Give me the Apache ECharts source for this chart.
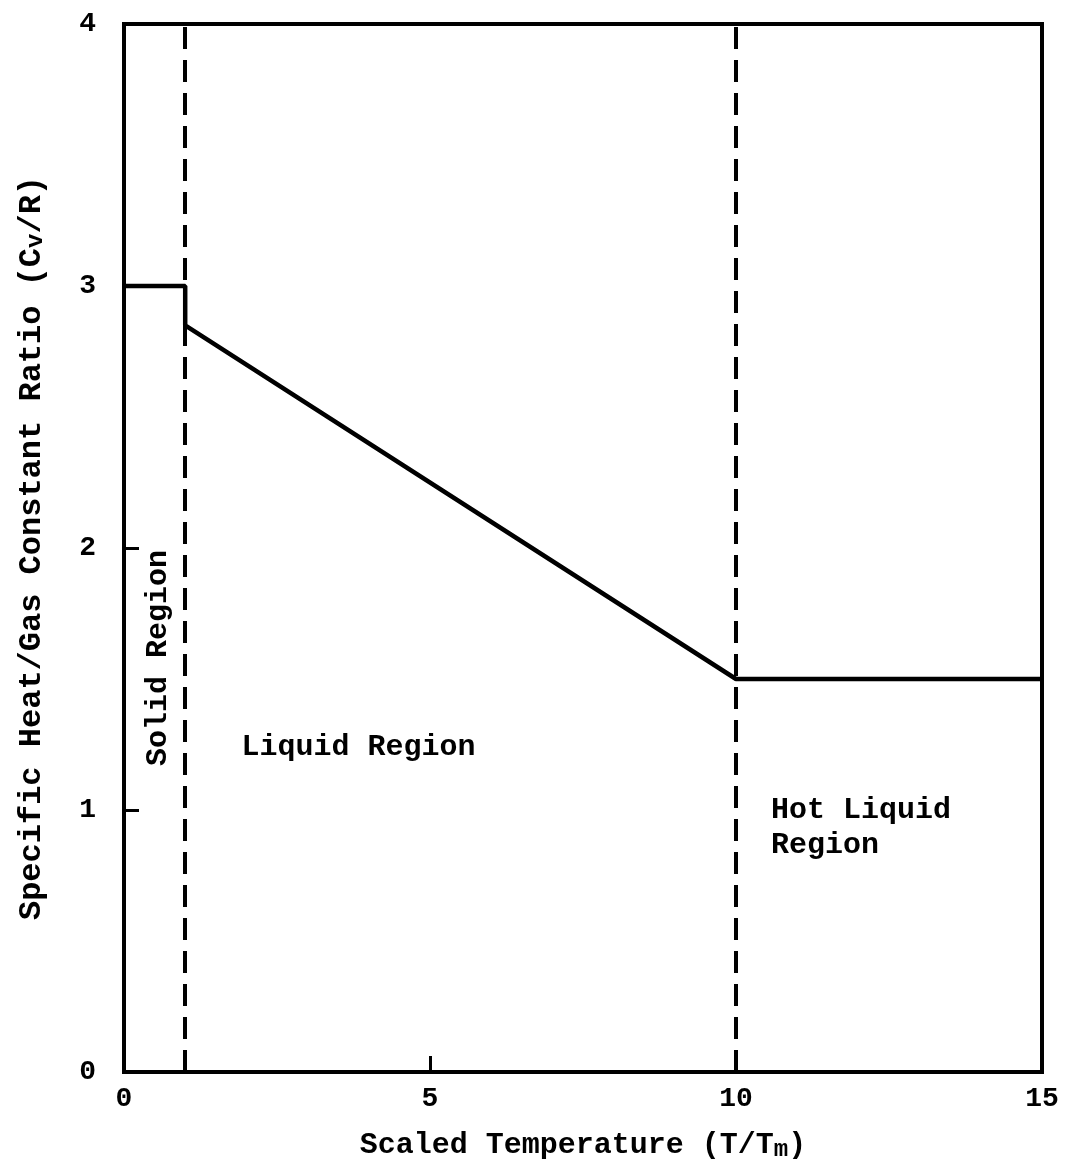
<!DOCTYPE html>
<html>
<head>
<meta charset="utf-8">
<script src="https://cdn.jsdelivr.net/npm/echarts@6/dist/echarts.min.js"></script>
<style>html,body{margin:0;padding:0;background:#fff;}#c{width:1071px;height:1175px;}</style>
</head>
<body>
<div id="c"></div>
<script>
const xValues = [0, 1, 1, 10, 15];
const cvValues = [3, 3, 2.85, 1.5, 1.5];
const regionBoundaries = [1, 10];
const annotationX = [0.57, 1.92, 10.57];
const annotationY = [1.58, 1.24, 0.93];
const annotationText = ['Solid Region', 'Liquid Region', 'Hot Liquid\nRegion'];
const annotationRotate = [90, 0, 0];
const xTickLabels = ['0', '5', '10', '15'];
const yTickLabels = ['0', '1', '2', '3', '4'];

const FONT = '"Liberation Mono", "DejaVu Sans Mono", monospace';
const chart = echarts.init(document.getElementById('c'), null, {renderer: 'canvas'});

const lineData = xValues.map((x, i) => [x, cvValues[i]]);
const annData = annotationX.map((x, i) => ({
  value: [x, annotationY[i]],
  name: annotationText[i],
  label: annotationRotate[i] ? {rotate: annotationRotate[i], align: 'center'} : {}
}));

chart.setOption({
  animation: false,
  backgroundColor: '#fff',
  grid: {left: 121, right: 29, top: 24, bottom: 103, show: true, borderColor: '#000', borderWidth: 4, backgroundColor: 'transparent'},
  xAxis: {
    type: 'value', min: 0, max: 15, interval: 5,
    axisLine: {show: true, lineStyle: {color: '#000', width: 4}},
    axisTick: {show: true, inside: true, length: 16, lineStyle: {color: '#000', width: 3}},
    splitLine: {show: false},
    axisLabel: {margin: 13, color: '#000', fontFamily: FONT, fontWeight: 'bold', fontSize: 28,
      formatter: v => xTickLabels[xTickLabels.indexOf(String(v))] },
    name: '{a|Scaled Temperature (T/T}{s|m}{a|)}',
    nameLocation: 'middle', nameGap: 58,
    nameTextStyle: {rich: {
      a: {fontFamily: FONT, fontWeight: 'bold', fontSize: 30, color: '#000', verticalAlign: 'top', lineHeight: 32},
      s: {fontFamily: FONT, fontWeight: 'bold', fontSize: 24, color: '#000', verticalAlign: 'bottom', lineHeight: 24, padding: [18, 0, 0, 0]}
    }}
  },
  yAxis: {
    type: 'value', min: 0, max: 4, interval: 1,
    axisLine: {show: true, lineStyle: {color: '#000', width: 4}},
    axisTick: {show: true, inside: true, length: 15, lineStyle: {color: '#000', width: 3}},
    splitLine: {show: false},
    axisLabel: {margin: 28, color: '#000', fontFamily: FONT, fontWeight: 'bold', fontSize: 28,
      formatter: v => yTickLabels[yTickLabels.indexOf(String(v))] },
    name: '{a|Specific Heat/Gas Constant Ratio (C}{s|v}{a|/R)}',
    nameLocation: 'middle', nameGap: 76, nameRotate: 90,
    nameTextStyle: {rich: {
      a: {fontFamily: FONT, fontWeight: 'bold', fontSize: 32, color: '#000', verticalAlign: 'top', lineHeight: 32},
      s: {fontFamily: FONT, fontWeight: 'bold', fontSize: 24, color: '#000', verticalAlign: 'bottom', lineHeight: 24, padding: [16, 0, 0, 0]}
    }}
  },
  series: [
    {
      type: 'line', data: lineData, symbol: 'none',
      lineStyle: {color: '#000', width: 4.5}, z: 5,
      markLine: {
        silent: true, symbol: ['none', 'none'], label: {show: false},
        lineStyle: {color: '#000', width: 4, type: [22, 11]},
        data: regionBoundaries.map(x => ({xAxis: x}))
      }
    },
    {
      type: 'scatter', data: annData, symbolSize: 1, silent: true,
      itemStyle: {color: '#fff', opacity: 0},
      label: {
        show: true, position: 'inside', color: '#000', fontFamily: FONT, fontWeight: 'bold', fontSize: 30, lineHeight: 35,
        align: 'left', verticalAlign: 'middle', textBorderWidth: 0, textBorderColor: 'transparent', opacity: 1,
        formatter: p => p.name
      }
    }
  ]
});
</script>
</body>
</html>
